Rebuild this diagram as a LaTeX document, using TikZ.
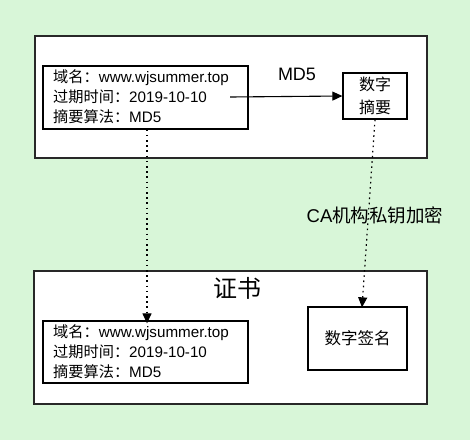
\documentclass[tikz,border=0pt]{standalone}
\usepackage{fontspec}
\setmainfont{Liberation Sans}
\newfontfamily\cjk{Noto Sans CJK SC}
\usetikzlibrary{arrows.meta}
\definecolor{bg}{RGB}{216,246,216}
\definecolor{edge}{RGB}{40,40,40}
\begin{document}
\begin{tikzpicture}[x=1pt,y=-1pt,
  frame/.style={draw=edge, line width=1.2pt, fill=white, inner sep=0pt},
  box/.style={draw=black, line width=1.3pt, fill=white, inner sep=0pt},
  info/.style={inner sep=0pt, anchor=west, align=left,
    font=\fontsize{15.2}{20}\selectfont},
  solidarrow/.style={line width=1.1pt, -{Triangle[length=10pt,width=9pt]}},
  dotarrow/.style={line width=1.2pt, dash pattern=on 1.6pt off 3.6pt,
    -{Triangle[length=10pt,width=9pt]}}
]
% canvas
\fill[bg] (0,0) rectangle (470,440);
\useasboundingbox (0,0) rectangle (470,440);

% upper frame: the server's information and its digest
\node[frame, minimum width=392pt, minimum height=122pt] (top) at (231,97) {};
\node[box, minimum width=205pt, minimum height=63pt] (infoA) at (145.5,97.5) {};
\node[info] (textA) at (53,97) {{\cjk 域名：}www.wjsummer.top\\{\cjk 过期时间：}2019-10-10\\{\cjk 摘要算法：}MD5};
\node[box, minimum width=64pt, minimum height=46pt, align=center,
  font=\fontsize{16}{23}\selectfont\cjk] (digest) at (375,96) {数字\\摘要};
\coordinate (hashfrom) at (230,97);
\draw[solidarrow] (hashfrom) -- (digest.west);
\node[inner sep=0pt, font=\fontsize{18}{21}\selectfont] (md5) at (297,74) {MD5};

% lower frame: the certificate
\node[frame, minimum width=393pt, minimum height=133pt] (cert) at (230.5,337.5) {};
\node[inner sep=0pt, font=\fontsize{24}{28}\selectfont\cjk] (certtitle) at (237,288) {证书};
\node[box, minimum width=205pt, minimum height=62pt] (infoB) at (145.5,352) {};
\node[info] (textB) at (53,352) {{\cjk 域名：}www.wjsummer.top\\{\cjk 过期时间：}2019-10-10\\{\cjk 摘要算法：}MD5};
\node[box, minimum width=99pt, minimum height=63pt,
  font=\fontsize{16.5}{20}\selectfont\cjk] (sig) at (357.5,338.5) {数字签名};

% links between the frames
\draw[dotarrow] ([xshift=1.5pt]infoA.south) -- ([xshift=1.5pt,yshift=-3pt]infoB.north);
\draw[dotarrow] (digest.south) -- ([xshift=4.5pt,yshift=-1pt]sig.north);
\node[inner sep=0pt, font=\fontsize{18.5}{22}\selectfont] (encrypt) at (375,215) {CA{\cjk 机构私钥加密}};
\end{tikzpicture}
\end{document}
